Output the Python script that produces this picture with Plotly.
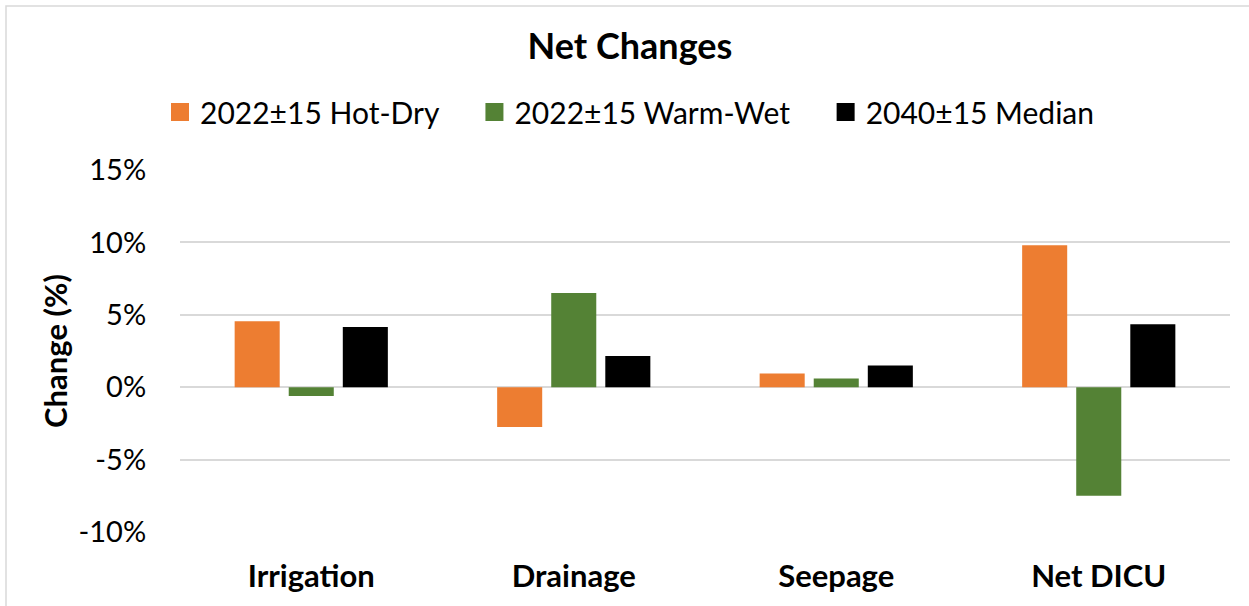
import plotly.graph_objects as go

categories = ["Irrigation", "Drainage", "Seepage", "Net DICU"]
series_names = ["2022±15 Hot-Dry", "2022±15 Warm-Wet", "2040±15 Median"]
hot_dry = [4.55, -2.75, 0.95, 9.8]
warm_wet = [-0.6, 6.5, 0.6, -7.5]
median_2040 = [4.15, 2.15, 1.5, 4.35]
colors = ["#ED7D31", "#548235", "#000000"]
y_tickvals = [-10, -5, 0, 5, 10, 15]
y_ticktext = ["-10%", "-5%", "0%", "5%", "10%", "15%"]

FONT = "Lato"
W, H = 1249, 606
ML, MR, MT, MB = 180, 19, 170, 74
PW, PH = W - ML - MR, H - MT - MB

fig = go.Figure()
for name, vals, col in zip(series_names, [hot_dry, warm_wet, median_2040], colors):
    fig.add_trace(go.Bar(x=categories, y=vals, name=name, showlegend=False,
                         legendgroup=name,
                         marker=dict(color=col, line=dict(width=0))))
# legend entries (square swatches)
for name, col in zip(series_names, colors):
    fig.add_trace(go.Scatter(x=[None], y=[None], mode="markers", name=name + "\u00a0" * 4,
                             legendgroup=name,
                             marker=dict(symbol="square", size=16, color=col,
                                         line=dict(color=col, width=2))))

fig.update_layout(
    width=W, height=H,
    paper_bgcolor="white", plot_bgcolor="white",
    font=dict(family=FONT, color="#000000"),
    barmode="group", bargap=0.382, bargroupgap=0.167,
    margin=dict(l=ML, r=MR, t=MT, b=MB, autoexpand=False),
    title=dict(text="<b>Net Changes</b>", x=(630 - ML) / PW, xanchor="center", xref="paper",
               y=1 - 46 / H, yanchor="middle",
               font=dict(size=36, family=FONT, color="#000000")),
    legend=dict(orientation="h", x=(160 - ML) / PW, xanchor="left",
                y=1 + (MT - 112) / PH, yanchor="middle",
                font=dict(size=30, family=FONT, color="#000000"),
                itemsizing="trace", traceorder="normal"),
    showlegend=True,
)
fig.update_xaxes(showgrid=False, showline=False, zeroline=False, automargin=False,
                 ticks="outside", ticklen=17, tickcolor="rgba(0,0,0,0)",
                 tickfont=dict(size=31, family=FONT, color="#000000"),
                 tickprefix="<b>", ticksuffix="</b>")
fig.update_yaxes(range=[-10, 15], tickvals=y_tickvals, ticktext=y_ticktext,
                 automargin=False,
                 showgrid=True, gridcolor="#D9D9D9", gridwidth=1.5,
                 zeroline=True, zerolinecolor="#D9D9D9", zerolinewidth=1.5,
                 showline=False,
                 ticks="outside", ticklen=27, tickcolor="rgba(0,0,0,0)",
                 tickfont=dict(size=29, family=FONT, color="#000000"),
                 title=dict(text="<b>Change (%)</b>", standoff=1,
                            font=dict(size=31, family=FONT, color="#000000")))

fig.add_shape(type="rect", xref="paper", yref="paper",
              x0=(6 - ML) / PW, x1=(W + 20 - ML) / PW,
              y0=-(MB + 20) / PH, y1=1 + (MT - 6) / PH,
              line=dict(color="#D9D9D9", width=1.5), fillcolor="rgba(0,0,0,0)", layer="below")

fig.write_html("out.html", config={"displayModeBar": False},
               post_script="document.body.style.margin='0';document.body.style.padding='0';")
